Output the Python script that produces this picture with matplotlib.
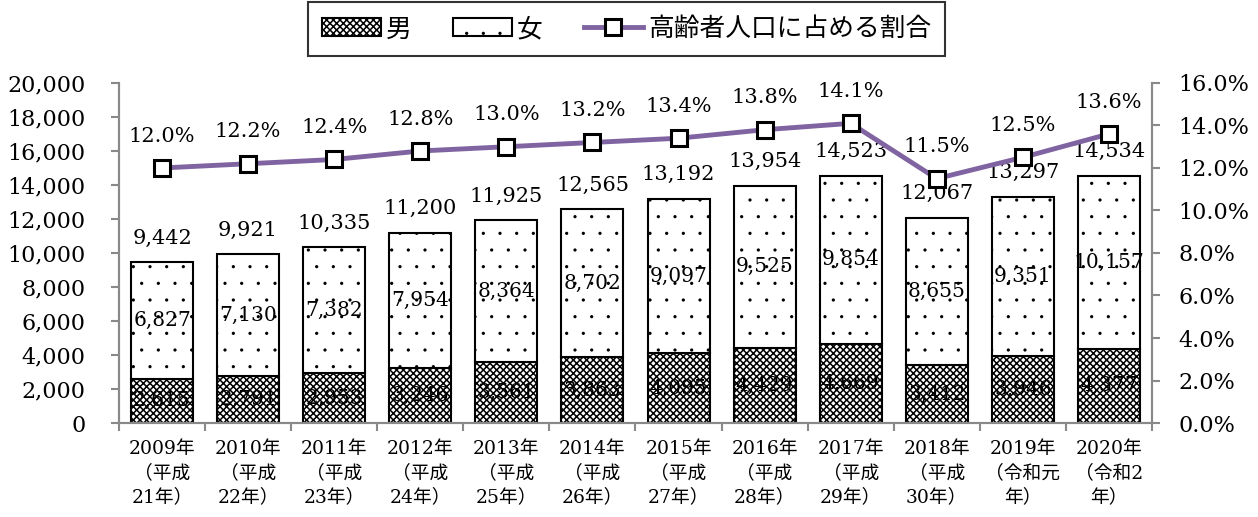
import matplotlib
matplotlib.use('Agg')
import matplotlib.pyplot as plt
import matplotlib.hatch
import numpy as np

plt.rcParams['font.family'] = ['DejaVu Serif', 'Noto Sans CJK JP']
plt.rcParams['hatch.linewidth'] = 1.1
# smaller dots for the '.' hatch, like the original's fine dot fill
matplotlib.hatch.SmallFilledCircles.size = 0.05

years = ['2009年\n（平成\n21年）', '2010年\n（平成\n22年）', '2011年\n（平成\n23年）',
         '2012年\n（平成\n24年）', '2013年\n（平成\n25年）', '2014年\n（平成\n26年）',
         '2015年\n（平成\n27年）', '2016年\n（平成\n28年）', '2017年\n（平成\n29年）',
         '2018年\n（平成\n30年）', '2019年\n（令和元\n年）', '2020年\n（令和2\n年）']
male = [2615, 2791, 2953, 3246, 3561, 3863, 4095, 4429, 4669, 3412, 3946, 4377]
female = [6827, 7130, 7382, 7954, 8364, 8702, 9097, 9525, 9854, 8655, 9351, 10157]
total = [9442, 9921, 10335, 11200, 11925, 12565, 13192, 13954, 14523, 12067, 13297, 14534]
ratio = [12.0, 12.2, 12.4, 12.8, 13.0, 13.2, 13.4, 13.8, 14.1, 11.5, 12.5, 13.6]

x = np.arange(len(years))
grey = '#898989'

fig = plt.figure(figsize=(12.58, 5.17), dpi=100)
ax = fig.add_axes([0.0946, 0.1818, 0.8211, 0.6577])
ax2 = ax.twinx()

w = 0.72
ax.bar(x, male, w, color='white', edgecolor='black', hatch='xxxxx', linewidth=1.5, label='男')
ax.bar(x, female, w, bottom=male, color='white', edgecolor='black', hatch='.',
       linewidth=1.5, label='女')

for i in range(len(x)):
    ax.text(x[i], male[i] / 2, f'{male[i]:,}', ha='center', va='center', fontsize=14.5)
    ax.text(x[i], male[i] + female[i] / 2, f'{female[i]:,}', ha='center', va='center', fontsize=14.5)
    ax.annotate(f'{total[i]:,}', (x[i], total[i]), xytext=(0, 17.5),
                textcoords='offset points', ha='center', va='center', fontsize=15)

ax2.plot(x, ratio, color='#8064A2', lw=3.5, marker='s', markersize=11,
         markerfacecolor='white', markeredgecolor='black', markeredgewidth=2.2,
         label='高齢者人口に占める割合')
for i in range(len(x)):
    ax2.annotate(f'{ratio[i]:.1f}%', (x[i], ratio[i]), xytext=(0, 23),
                 textcoords='offset points', ha='center', va='center', fontsize=15)

ax.set_xlim(-0.5, len(x) - 0.5)
ax.set_ylim(0, 20000)
ax2.set_ylim(0, 16)
ax.set_yticks(np.arange(0, 20001, 2000))
ax.set_yticklabels([f'{v:,}' for v in range(0, 20001, 2000)])
ax2.set_yticks(np.arange(0, 16.1, 2))
ax2.set_yticklabels([f'{v:.1f}%' for v in np.arange(0, 16.1, 2)])

ax.set_xticks(np.arange(-0.5, len(x), 1))
ax.set_xticklabels([])
ax.set_xticks(x, minor=True)
ax.set_xticklabels(years, minor=True, fontsize=13.5, linespacing=1.45)
ax.tick_params(axis='x', which='minor', length=0, pad=12)
ax.tick_params(axis='x', which='major', length=6, color=grey, width=1.5)
ax.tick_params(axis='y', length=6, color=grey, width=1.5, pad=18, labelsize=16)
ax2.tick_params(axis='y', length=6, color=grey, width=1.5, pad=13, labelsize=16)

for a in (ax, ax2):
    a.spines['top'].set_visible(False)
    for s in ('left', 'right', 'bottom'):
        a.spines[s].set_color(grey)
        a.spines[s].set_linewidth(1.5)

h1, l1 = ax.get_legend_handles_labels()
h2, l2 = ax2.get_legend_handles_labels()
leg = fig.legend(h1 + h2, l1 + l2, loc='center', bbox_to_anchor=(0.498, 0.944),
                 ncol=3, fontsize=18.5, frameon=True, fancybox=False,
                 edgecolor='black', handlelength=2.3, handletextpad=0.2,
                 columnspacing=1.6, borderpad=0.55, borderaxespad=0)
leg.get_frame().set_linewidth(1.5)

fig.savefig('out.png', dpi=100)
